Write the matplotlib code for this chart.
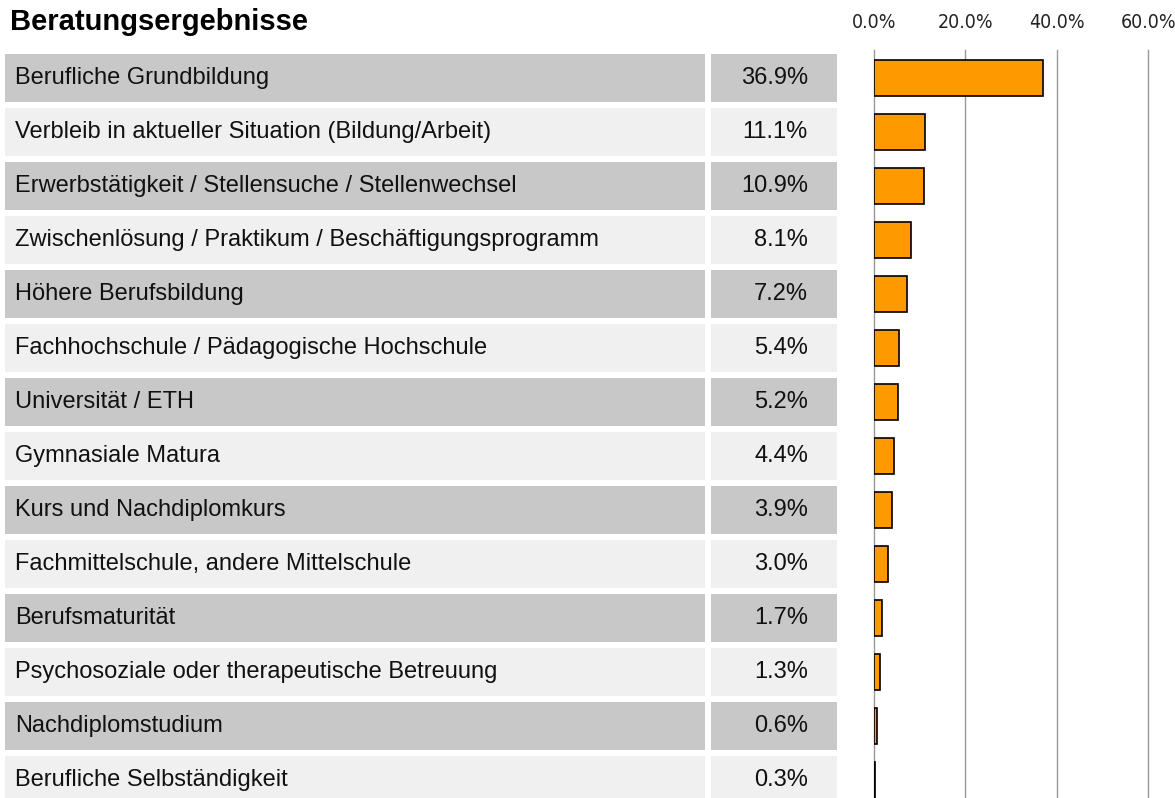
import matplotlib
matplotlib.use("Agg")
import matplotlib.pyplot as plt
import numpy as np

# Data
categories = [
    "Berufliche Grundbildung",
    "Verbleib in aktueller Situation (Bildung/Arbeit)",
    "Erwerbstätigkeit / Stellensuche / Stellenwechsel",
    "Zwischenlösung / Praktikum / Beschäftigungsprogramm",
    "Höhere Berufsbildung",
    "Fachhochschule / Pädagogische Hochschule",
    "Universität / ETH",
    "Gymnasiale Matura",
    "Kurs und Nachdiplomkurs",
    "Fachmittelschule, andere Mittelschule",
    "Berufsmaturität",
    "Psychosoziale oder therapeutische Betreuung",
    "Nachdiplomstudium",
    "Berufliche Selbständigkeit",
]
values = [36.9, 11.1, 10.9, 8.1, 7.2, 5.4, 5.2, 4.4, 3.9, 3.0, 1.7, 1.3, 0.6, 0.3]
ticks = [0, 20, 40, 60]
tick_labels = ["0.0%", "20.0%", "40.0%", "60.0%"]
title = "Beratungsergebnisse"

W, H = 1175, 798
fig = plt.figure(figsize=(W / 100, H / 100), dpi=100)
fig.patch.set_facecolor("white")

# vertical layout in pixels
top_px = 50
pitch = 54
first_center = 78
ylim = ((H - first_center) / pitch, (top_px - first_center) / pitch)
rows = np.arange(len(categories))

# table part
axT = fig.add_axes([0, 0, 870 / W, (H - top_px) / H])
axT.set_xlim(0, 870)
axT.set_ylim(*ylim)
axT.axis("off")
colors = ["#c8c8c8" if i % 2 == 0 else "#f0f0f0" for i in rows]
axT.barh(rows, 700, left=5, height=48 / pitch, color=colors, linewidth=0)
axT.barh(rows, 126, left=711, height=48 / pitch, color=colors, linewidth=0)
for i, (cat, v) in enumerate(zip(categories, values)):
    axT.text(15, i, cat, ha="left", va="center", fontsize=17,
             family="Liberation Sans", color="#111111")
    axT.text(808, i, f"{v:.1f}%", ha="right", va="center", fontsize=17,
             family="Liberation Sans", color="#111111")

fig.text(10 / W, 1 - 22 / H, title, ha="left", va="center", fontsize=21,
         fontweight="bold", family="Liberation Sans")

# bar part
axB = fig.add_axes([874 / W, 0, (1148 - 874) / W, (H - top_px) / H])
axB.set_xlim(0, 60)
axB.set_ylim(*ylim)
for t in ticks:
    axB.axvline(t, color="#999999", lw=1, zorder=0, clip_on=False)
axB.barh(rows, values, height=36 / pitch, color="#ff9900",
         edgecolor="black", linewidth=1.2, zorder=2)
for s in axB.spines.values():
    s.set_visible(False)
axB.set_yticks([])
axB.set_xticks([])
for t, lab in zip(ticks, tick_labels):
    fig.text((874 + t / 20 * 91.5) / W, 1 - 23 / H, lab, ha="center", va="center",
             fontsize=14, family="DejaVu Sans", fontstretch="condensed",
             color="#222222")

fig.savefig("out.png", dpi=100)
